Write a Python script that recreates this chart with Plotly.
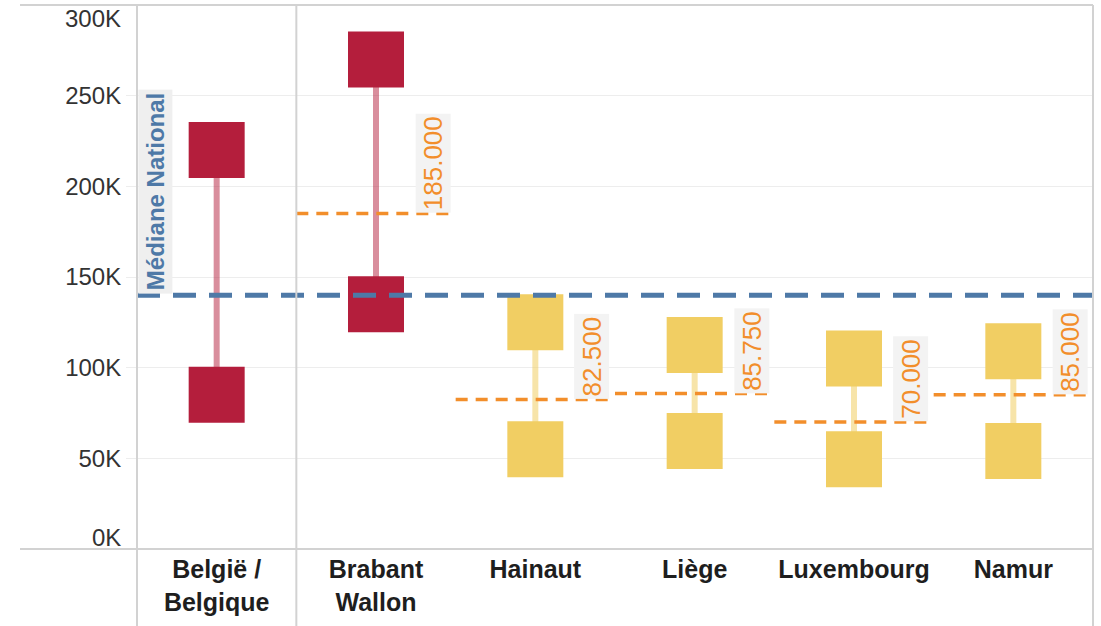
import plotly.graph_objects as go

# Price range per area (low / high) with the median of each province
categories = ["België /<br>Belgique", "Brabant<br>Wallon", "Hainaut", "Liège", "Luxembourg", "Namur"]
low_values = [85000, 135000, 55000, 59500, 49500, 54000]
high_values = [220000, 270000, 125000, 112500, 105000, 109000]
province_medians = [None, 185000, 82500, 85750, 70000, 85000]
national_median = 140000
y_ticks = [0, 50000, 100000, 150000, 200000, 250000, 300000]
y_tick_labels = ["0K", "50K", "100K", "150K", "200K", "250K", "300K"]

RED = "#B41E3C"
RED_LINK = "rgba(180,30,60,0.5)"
YELLOW = "#F1CE63"
YELLOW_LINK = "rgba(241,206,99,0.55)"
ORANGE = "#F28E2B"
BLUE = "#4E79A7"
FONT = "Liberation Sans, Arial, sans-serif"


def fmt_eu(v):
    return f"{v:,.0f}".replace(",", ".")


fig = go.Figure()

# areas whose upper bound exceeds the national median are drawn in red
groups = {
    "above": ([i for i, h in enumerate(high_values) if h > national_median], RED, RED_LINK),
    "below": ([i for i, h in enumerate(high_values) if h <= national_median], YELLOW, YELLOW_LINK),
}

for name, (idx, color, link) in groups.items():
    lx, ly = [], []
    for i in idx:
        lx += [i, i, None]
        ly += [low_values[i], high_values[i], None]
    fig.add_trace(go.Scatter(x=lx, y=ly, mode="lines",
                             line=dict(color=link, width=6),
                             hoverinfo="skip", showlegend=False))
    mx, my = [], []
    for i in idx:
        mx += [i, i]
        my += [low_values[i], high_values[i]]
    fig.add_trace(go.Scatter(x=mx, y=my, mode="markers",
                             marker=dict(symbol="square", size=56, color=color,
                                         line=dict(width=0)),
                             showlegend=False))

# province medians: dashed segment across each column
mx, my = [], []
for i, m in enumerate(province_medians):
    if m is None:
        continue
    mx += [i - 0.5, i + 0.5, None]
    my += [m, m, None]
fig.add_trace(go.Scatter(x=mx, y=my, mode="lines",
                         line=dict(color=ORANGE, width=3.5, dash="12px,8px"),
                         hoverinfo="skip", showlegend=False))

# national median across the whole chart
fig.add_trace(go.Scatter(x=[-0.5, len(categories) - 0.5], y=[national_median] * 2,
                         mode="lines",
                         line=dict(color=BLUE, width=5, dash="23px,13px"),
                         hoverinfo="skip", showlegend=False))

annotations = []
for i, m in enumerate(province_medians):
    if m is None:
        continue
    annotations.append(dict(
        x=i + 0.5, y=m, xref="x", yref="y", xanchor="right", yanchor="bottom",
        xshift=-5, text=fmt_eu(m), textangle=-90, showarrow=False,
        bgcolor="#F3F3F3", borderpad=2,
        font=dict(family=FONT, size=26, color=ORANGE)))

annotations.append(dict(
    x=-0.5, y=national_median, xref="x", yref="y", xanchor="left", yanchor="bottom",
    xshift=1, yshift=1, text="<b>Médiane National</b>", textangle=-90, showarrow=False,
    bgcolor="#EFEFEF", borderpad=3,
    font=dict(family=FONT, size=24, color=BLUE)))

# end tick labels sit inside the plot edges
annotations.append(dict(x=0, xref="paper", y=y_ticks[0], yref="y", xanchor="right",
                        yanchor="middle", xshift=-14, yshift=12, text=y_tick_labels[0],
                        showarrow=False, font=dict(family=FONT, size=24, color="#333333")))
annotations.append(dict(x=0, xref="paper", y=y_ticks[-1], yref="y", xanchor="right",
                        yanchor="middle", xshift=-14, yshift=-13, text=y_tick_labels[-1],
                        showarrow=False, font=dict(family=FONT, size=24, color="#333333")))

GRID_LINE = "#D2D2D2"
shapes = [
    # frame lines extending over the header and axis area
    dict(type="line", xref="paper", yref="paper", x0=-0.1224, x1=1, y0=1, y1=1,
         line=dict(color=GRID_LINE, width=2)),
    dict(type="line", xref="paper", yref="paper", x0=-0.1224, x1=1, y0=0, y1=0,
         line=dict(color=GRID_LINE, width=2)),
    dict(type="line", xref="paper", yref="paper", x0=0, x1=0, y0=-0.142, y1=1,
         line=dict(color=GRID_LINE, width=2)),
    dict(type="line", xref="x", yref="paper", x0=0.5, x1=0.5, y0=-0.142, y1=1,
         line=dict(color=GRID_LINE, width=2)),
    dict(type="line", xref="paper", yref="paper", x0=1, x1=1, y0=-0.142, y1=1,
         line=dict(color=GRID_LINE, width=2)),
]

fig.update_layout(
    width=1101, height=626, autosize=False,
    margin=dict(l=137, r=8, t=5, b=77),
    paper_bgcolor="white", plot_bgcolor="white",
    showlegend=False,
    annotations=annotations, shapes=shapes,
    xaxis=dict(range=[-0.5, len(categories) - 0.5], tickvals=list(range(len(categories))),
               ticktext=[f"<b>{c}</b>" for c in categories],
               tickfont=dict(family=FONT, size=25, color="#1E1E1E"),
               ticklabelstandoff=3,
               showgrid=False, zeroline=False, showline=False, ticks=""),
    yaxis=dict(range=[0, 300000], tickvals=y_ticks,
               ticktext=[""] + y_tick_labels[1:-1] + [""],
               tickfont=dict(family=FONT, size=24, color="#333333"),
               showgrid=True, gridcolor="#EDEDED", gridwidth=1,
               zeroline=False, showline=False,
               ticks="outside", ticklen=10, tickcolor="#EDEDED"),
)

fig.write_html("out.html")
